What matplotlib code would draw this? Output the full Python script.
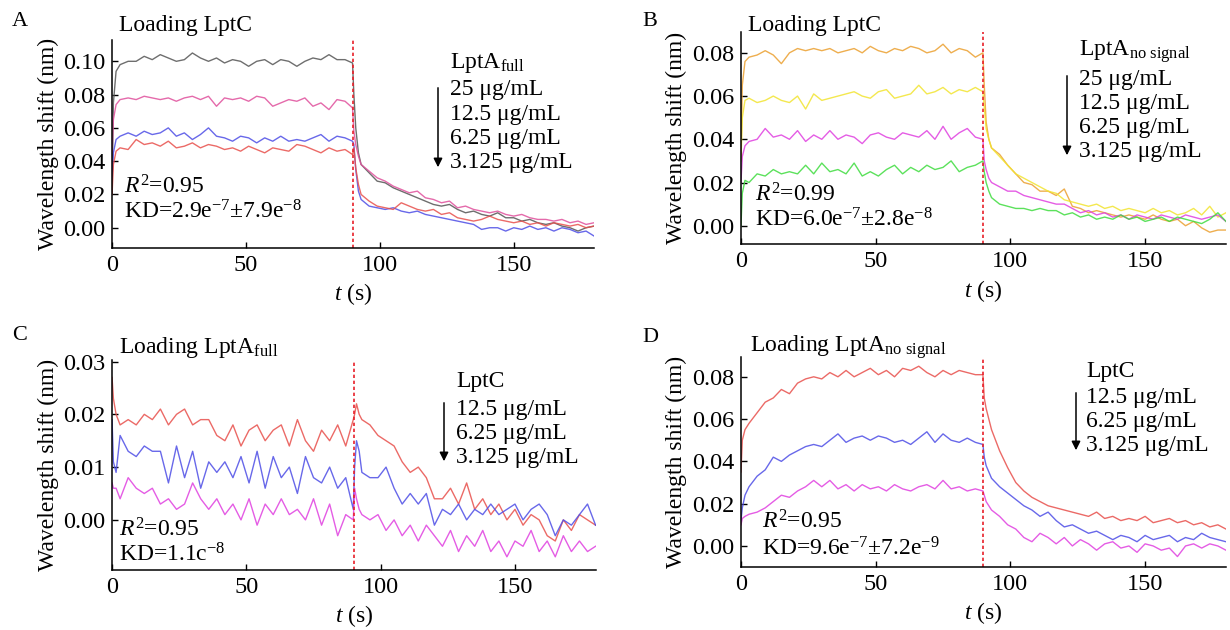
import matplotlib
matplotlib.use("Agg")
import matplotlib.pyplot as plt

plt.rcParams['font.family'] = ['Liberation Serif', 'DejaVu Serif']
plt.rcParams['mathtext.fontset'] = 'custom'
plt.rcParams['mathtext.rm'] = 'Liberation Serif'
plt.rcParams['mathtext.it'] = 'Liberation Serif:italic'

# time grid (s): association phase and dissociation phase
t_on = [0, 0.5, 1.5] + list(range(3, 88, 3)) + [89.8]
t_off = [90.3, 91, 92] + list(range(93, 181, 3))

# ---- panel A: loading LptC, LptA full ----
A_25_on = [0.02, 0.075, 0.094, 0.098, 0.100, 0.100, 0.103, 0.101, 0.104, 0.102, 0.100, 0.101, 0.105, 0.102, 0.100,
           0.102, 0.099, 0.101, 0.100, 0.097, 0.100, 0.101, 0.098, 0.101, 0.100, 0.097, 0.100, 0.102, 0.101, 0.104,
           0.101, 0.101, 0.099]
A_25_off = [0.08, 0.06, 0.045, 0.038, 0.033, 0.028, 0.027, 0.024, 0.022, 0.020, 0.018, 0.016, 0.014, 0.013, 0.014,
            0.011, 0.009, 0.010, 0.008, 0.007, 0.009, 0.006, 0.006, 0.004, 0.005, 0.003, 0.002, 0.003, 0.001, 0.000,
            -0.002, 0.000, 0.001]
A_12_on = [0.045, 0.065, 0.074, 0.077, 0.078, 0.077, 0.079, 0.078, 0.077, 0.078, 0.076, 0.078, 0.079, 0.077, 0.079,
           0.073, 0.078, 0.077, 0.078, 0.076, 0.079, 0.078, 0.073, 0.075, 0.077, 0.076, 0.078, 0.073, 0.075, 0.071,
           0.077, 0.076, 0.072]
A_12_off = [0.058, 0.05, 0.043, 0.038, 0.034, 0.030, 0.028, 0.025, 0.023, 0.021, 0.022, 0.018, 0.017, 0.015, 0.016,
            0.012, 0.013, 0.011, 0.010, 0.009, 0.010, 0.008, 0.007, 0.008, 0.006, 0.005, 0.005, 0.004, 0.005, 0.003,
            0.004, 0.002, 0.003]
A_6_on = [0.03, 0.045, 0.053, 0.055, 0.057, 0.055, 0.058, 0.056, 0.057, 0.060, 0.055, 0.057, 0.053, 0.056, 0.060,
          0.055, 0.054, 0.052, 0.055, 0.054, 0.051, 0.054, 0.052, 0.055, 0.052, 0.053, 0.052, 0.054, 0.056, 0.052,
          0.055, 0.054, 0.052]
A_6_off = [0.05, 0.035, 0.022, 0.017, 0.013, 0.012, 0.011, 0.012, 0.010, 0.009, 0.010, 0.008, 0.007, 0.006, 0.005,
           0.004, 0.003, 0.002, -0.001, 0.000, 0.000, -0.002, 0.000, -0.001, 0.001, -0.001, 0.000, -0.002, 0.000,
           -0.001, -0.003, -0.002, -0.005]
A_3_on = [0.02, 0.038, 0.046, 0.048, 0.047, 0.053, 0.050, 0.051, 0.049, 0.052, 0.048, 0.049, 0.051, 0.048, 0.050,
          0.049, 0.047, 0.048, 0.046, 0.049, 0.047, 0.045, 0.048, 0.047, 0.046, 0.050, 0.049, 0.047, 0.045, 0.048,
          0.046, 0.047, 0.044]
A_3_off = [0.048, 0.036, 0.026, 0.020, 0.016, 0.013, 0.012, 0.011, 0.015, 0.013, 0.011, 0.010, 0.011, 0.008, 0.009,
           0.006, 0.005, 0.004, 0.005, 0.007, 0.005, 0.004, 0.003, 0.004, 0.002, 0.003, 0.001, 0.003, 0.002, 0.001,
           0.002, 0.000, 0.001]

# ---- panel B: loading LptC, LptA no signal ----
B_25_on = [0.03, 0.065, 0.076, 0.078, 0.079, 0.081, 0.079, 0.075, 0.080, 0.082, 0.081, 0.082, 0.081, 0.082, 0.080,
           0.081, 0.082, 0.080, 0.083, 0.081, 0.080, 0.082, 0.081, 0.083, 0.082, 0.080, 0.081, 0.084, 0.080, 0.082,
           0.081, 0.078, 0.080]
B_25_off = [0.065, 0.048, 0.040, 0.036, 0.033, 0.028, 0.024, 0.020, 0.019, 0.016, 0.016, 0.014, 0.017, 0.009, 0.008,
            0.006, 0.007, 0.006, 0.005, 0.004, 0.005, 0.004, 0.003, 0.005, 0.003, 0.002, 0.003, 0.000, 0.002, -0.001,
            -0.003, -0.002, -0.002]
B_12_on = [0.03, 0.05, 0.058, 0.059, 0.057, 0.058, 0.060, 0.058, 0.057, 0.060, 0.054, 0.061, 0.058, 0.059, 0.060,
           0.061, 0.062, 0.060, 0.059, 0.062, 0.063, 0.059, 0.060, 0.061, 0.065, 0.061, 0.062, 0.064, 0.061, 0.063,
           0.062, 0.064, 0.062]
B_12_off = [0.055, 0.045, 0.040, 0.036, 0.032, 0.028, 0.024, 0.022, 0.020, 0.018, 0.016, 0.015, 0.012, 0.011, 0.010,
            0.009, 0.010, 0.008, 0.009, 0.007, 0.008, 0.007, 0.006, 0.008, 0.006, 0.007, 0.005, 0.006, 0.008, 0.005,
            0.009, 0.004, 0.006]
B_6_on = [0.02, 0.032, 0.037, 0.039, 0.040, 0.045, 0.041, 0.042, 0.040, 0.044, 0.039, 0.042, 0.040, 0.044, 0.040,
          0.042, 0.041, 0.038, 0.042, 0.043, 0.041, 0.040, 0.043, 0.042, 0.041, 0.044, 0.040, 0.046, 0.040, 0.043,
          0.045, 0.041, 0.040]
B_6_off = [0.030, 0.026, 0.022, 0.020, 0.018, 0.016, 0.016, 0.014, 0.013, 0.012, 0.011, 0.010, 0.010, 0.008, 0.006,
           0.007, 0.005, 0.006, 0.004, 0.005, 0.003, 0.005, 0.004, 0.003, 0.005, 0.004, 0.003, 0.005, 0.004, 0.003,
           0.004, 0.005, 0.002]
B_3_on = [0.0, 0.015, 0.021, 0.020, 0.024, 0.023, 0.026, 0.024, 0.025, 0.024, 0.028, 0.024, 0.029, 0.025, 0.026,
          0.024, 0.029, 0.023, 0.025, 0.023, 0.026, 0.028, 0.024, 0.027, 0.025, 0.028, 0.026, 0.027, 0.030, 0.025,
          0.027, 0.028, 0.030]
B_3_off = [0.025, 0.020, 0.016, 0.013, 0.010, 0.009, 0.008, 0.008, 0.007, 0.008, 0.007, 0.007, 0.005, 0.006, 0.004,
           0.005, 0.003, 0.004, 0.003, 0.005, 0.003, 0.004, 0.002, 0.003, 0.004, 0.002, 0.004, 0.003, 0.002, 0.001,
           0.003, 0.006, 0.002]

# ---- panel C: loading LptA full, LptC ----
C_12_on = [0.027, 0.023, 0.020, 0.018, 0.019, 0.018, 0.020, 0.019, 0.021, 0.018, 0.020, 0.021, 0.018, 0.019, 0.019,
           0.016, 0.015, 0.018, 0.014, 0.017, 0.018, 0.015, 0.017, 0.018, 0.014, 0.019, 0.015, 0.013, 0.017, 0.015,
           0.018, 0.014, 0.019]
C_12_off = [0.020, 0.022, 0.020, 0.019, 0.018, 0.016, 0.015, 0.014, 0.011, 0.009, 0.010, 0.008, 0.004, 0.004, 0.006,
            0.003, 0.007, 0.002, 0.004, 0.001, 0.003, 0.000, 0.002, -0.001, 0.001, 0.000, -0.003, -0.004, 0.000,
            -0.002, 0.001, 0.000, -0.001]
C_6_on = [0.019, 0.011, 0.009, 0.016, 0.013, 0.012, 0.014, 0.013, 0.013, 0.007, 0.014, 0.008, 0.013, 0.006, 0.011,
          0.009, 0.011, 0.008, 0.012, 0.007, 0.013, 0.006, 0.012, 0.008, 0.010, 0.005, 0.012, 0.008, 0.007, 0.010,
          0.006, 0.008, 0.002]
C_6_off = [0.010, 0.015, 0.013, 0.009, 0.008, 0.008, 0.010, 0.006, 0.003, 0.005, 0.003, 0.005, -0.001, 0.002, 0.001,
           0.003, 0.000, 0.002, 0.001, 0.003, 0.001, 0.002, 0.003, 0.000, 0.002, 0.003, 0.001, -0.003, 0.000, -0.001,
           0.001, 0.003, -0.001]
C_3_on = [0.007, 0.006, 0.006, 0.004, 0.008, 0.006, 0.005, 0.006, 0.003, 0.004, 0.002, 0.003, 0.007, 0.004, 0.002,
          0.004, 0.001, 0.003, 0.000, 0.004, -0.001, 0.003, 0.001, 0.004, 0.001, 0.002, 0.000, 0.004, -0.001, 0.003,
          -0.003, 0.001, 0.000]
C_3_off = [0.006, 0.004, 0.002, 0.001, 0.000, 0.001, -0.002, 0.000, -0.003, -0.001, -0.004, -0.001, -0.003, -0.005,
           -0.002, -0.006, -0.003, -0.005, -0.002, -0.006, -0.004, -0.007, -0.004, -0.005, -0.002, -0.006, -0.004,
           -0.007, -0.003, -0.006, -0.004, -0.006, -0.005]

# ---- panel D: loading LptA no signal, LptC ----
D_12_on = [0.035, 0.050, 0.055, 0.058, 0.063, 0.068, 0.070, 0.074, 0.072, 0.077, 0.079, 0.080, 0.079, 0.082, 0.080,
           0.083, 0.080, 0.082, 0.084, 0.081, 0.083, 0.080, 0.084, 0.083, 0.085, 0.082, 0.080, 0.083, 0.081, 0.083,
           0.082, 0.081, 0.081]
D_12_off = [0.070, 0.065, 0.060, 0.055, 0.045, 0.037, 0.030, 0.026, 0.023, 0.021, 0.019, 0.018, 0.017, 0.016, 0.015,
            0.014, 0.016, 0.013, 0.014, 0.012, 0.013, 0.012, 0.014, 0.011, 0.012, 0.013, 0.011, 0.012, 0.010, 0.011,
            0.009, 0.010, 0.008]
D_6_on = [0.012, 0.018, 0.024, 0.028, 0.033, 0.036, 0.042, 0.040, 0.043, 0.045, 0.047, 0.048, 0.047, 0.050, 0.053,
          0.049, 0.051, 0.052, 0.050, 0.052, 0.051, 0.049, 0.050, 0.048, 0.051, 0.054, 0.049, 0.053, 0.050, 0.049,
          0.051, 0.049, 0.048]
D_6_off = [0.042, 0.038, 0.035, 0.032, 0.028, 0.025, 0.022, 0.019, 0.017, 0.014, 0.016, 0.012, 0.009, 0.010, 0.008,
           0.006, 0.007, 0.005, 0.003, 0.005, 0.004, 0.002, 0.005, 0.003, 0.004, 0.005, 0.002, 0.004, 0.003, 0.006,
           0.004, 0.003, 0.002]
D_3_on = [0.010, 0.013, 0.014, 0.015, 0.016, 0.018, 0.021, 0.024, 0.023, 0.026, 0.028, 0.031, 0.028, 0.031, 0.027,
          0.029, 0.026, 0.029, 0.027, 0.028, 0.026, 0.029, 0.027, 0.026, 0.028, 0.029, 0.027, 0.031, 0.027, 0.028,
          0.026, 0.027, 0.026]
D_3_off = [0.024, 0.021, 0.019, 0.017, 0.014, 0.010, 0.008, 0.004, 0.002, 0.006, 0.004, 0.001, 0.004, 0.000, 0.003,
           0.001, -0.002, 0.001, 0.002, -0.001, 0.000, -0.003, 0.001, 0.000, -0.002, -0.001, -0.005, 0.000, 0.001,
           -0.001, 0.001, 0.000, -0.002]

conc4 = ['25 \u03bcg/mL', '12.5 \u03bcg/mL', '6.25 \u03bcg/mL', '3.125 \u03bcg/mL']
conc3 = ['12.5 \u03bcg/mL', '6.25 \u03bcg/mL', '3.125 \u03bcg/mL']

W, H = 1230, 630
FS = 17
fig = plt.figure(figsize=(12.3, 6.3), dpi=100)


def ptext(x, y, s, **kw):
    # place text by pixel position in the figure
    kw.setdefault('fontsize', FS)
    fig.text(x / W, 1 - y / H, s, va='center', ha=kw.pop('ha', 'left'), **kw)


def arrow(x, y0, y1):
    fig.add_artist(matplotlib.patches.FancyArrowPatch(
        (x / W, 1 - y0 / H), (x / W, 1 - y1 / H), transform=fig.transFigure,
        arrowstyle='-|>', mutation_scale=13, color='black', lw=1.1))


def panel(rect, ylim, yticks, traces):
    ax = fig.add_axes(rect)
    for on, off, col in traces:
        ax.plot(t_on + t_off, on + off, color=col, lw=1.0, alpha=0.85)
    ax.axvline(90, color='#e8202a', ls=(0, (2, 1.6)), lw=1.2)
    ax.set_xlim(0, 180)
    ax.set_ylim(*ylim)
    ax.set_xticks([0, 50, 100, 150])
    ax.set_yticks(yticks)
    ax.set_yticklabels(['%.2f' % v for v in yticks])
    for s in ['top', 'right']:
        ax.spines[s].set_visible(False)
    for s in ['left', 'bottom']:
        ax.spines[s].set_linewidth(1.1)
    ax.tick_params(direction='in', length=4, width=1, labelsize=17.5, pad=5)
    ax.set_ylabel('Wavelength shift (nm)', fontsize=FS, labelpad=3)
    ax.set_xlabel('$t$ (s)', fontsize=FS, labelpad=4)
    return ax


gray, pink, blue, red = '#555555', '#e0509c', '#4e4ee6', '#e8504c'
orange, yellow, magenta, green = '#eba030', '#f2e430', '#e040e0', '#3fdc3f'

panel([0.0911, 0.6068, 0.3919, 0.3297], (-0.012, 0.1128), [0.0, 0.02, 0.04, 0.06, 0.08, 0.10],
      [(A_25_on, A_25_off, gray), (A_12_on, A_12_off, pink), (A_6_on, A_6_off, blue), (A_3_on, A_3_off, red)])
panel([0.6024, 0.6122, 0.3943, 0.3365], (-0.0086, 0.0895), [0.0, 0.02, 0.04, 0.06, 0.08],
      [(B_25_on, B_25_off, orange), (B_12_on, B_12_off, yellow), (B_6_on, B_6_off, magenta), (B_3_on, B_3_off, green)])
panel([0.0911, 0.0952, 0.3931, 0.3334], (-0.0095, 0.0303), [0.0, 0.01, 0.02, 0.03],
      [(C_12_on, C_12_off, red), (C_6_on, C_6_off, blue), (C_3_on, C_3_off, magenta)])
panel([0.6024, 0.1005, 0.3943, 0.3333], (-0.0098, 0.0895), [0.0, 0.02, 0.04, 0.06, 0.08],
      [(D_12_on, D_12_off, red), (D_6_on, D_6_off, blue), (D_3_on, D_3_off, magenta)])

# panel letters and titles
ptext(12, 22, 'A', fontsize=16)
ptext(642, 22, 'B', fontsize=16)
ptext(12, 335, 'C', fontsize=16)
ptext(642, 337, 'D', fontsize=16)
ptext(119, 25, 'Loading LptC')
ptext(748, 25, 'Loading LptC')
ptext(119, 347, 'Loading LptA$_{\\mathrm{full}}$')
ptext(750, 347, 'Loading LptA$_{\\mathrm{no\\ signal}}$')

# concentration legends
ptext(450, 63, 'LptA$_{\\mathrm{full}}$')
for i, s in enumerate(conc4):
    ptext(450, 90 + 24.3 * i, s)
arrow(438, 85, 170)

ptext(1079, 52, 'LptA$_{\\mathrm{no\\ signal}}$')
for i, s in enumerate(conc4):
    ptext(1079, 80 + 24 * i, s)
arrow(1067, 73, 158)

ptext(456, 382, 'LptC')
for i, s in enumerate(conc3):
    ptext(456, 410 + 23.5 * i, s)
arrow(444, 400, 464)

ptext(1086, 372, 'LptC')
for i, s in enumerate(conc3):
    ptext(1086, 398 + 23.5 * i, s)
arrow(1076, 390, 453)

# fit statistics
ptext(124, 187, '$R^2$=0.95')
ptext(124, 212, 'KD=2.9e$^{-7}$\u00b17.9e$^{-8}$')
ptext(755, 195, '$R^2$=0.99')
ptext(755, 220, 'KD=6.0e$^{-7}$\u00b12.8e$^{-8}$')
ptext(119, 530, '$R^2$=0.95')
ptext(119, 555, 'KD=1.1c$^{-8}$')
ptext(762, 522, '$R^2$=0.95')
ptext(762, 549, 'KD=9.6e$^{-7}$\u00b17.2e$^{-9}$')

fig.savefig('out.png', dpi=100)
